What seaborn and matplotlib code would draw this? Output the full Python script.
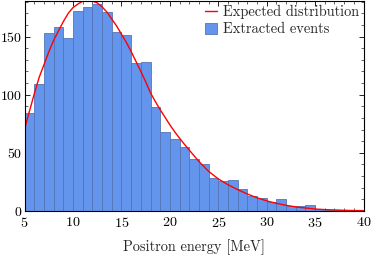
import numpy as np
import pandas as pd
import matplotlib
matplotlib.use("Agg")
import matplotlib.pyplot as plt
import seaborn as sns
from matplotlib.ticker import MultipleLocator

# ---- data ----
bin_left = list(range(5, 40))
counts = [84, 109, 153, 158, 149, 172, 175, 178, 171, 154,
          151, 127, 128, 89, 68, 62, 55, 45, 40, 28,
          26, 26.5, 18.5, 13, 11, 8, 10, 4.3, 4, 5.3,
          1.5, 1, 1, 0, 0]

curve_e = [5, 5.5, 6, 6.5, 7, 7.5, 8, 8.5, 9, 9.5, 10, 10.5, 11, 11.5, 12,
           12.5, 13, 13.5, 14, 14.5, 15, 15.5, 16, 16.5, 17, 17.5, 18, 18.5,
           19, 19.5, 20, 20.5, 21, 21.5, 22, 23, 24, 25, 26, 27, 28, 29, 30,
           31, 32, 33, 34, 35, 36, 37, 38, 39, 40]
curve_v = [71, 86, 101, 115, 126, 137, 147, 155, 163, 170, 175, 178, 180.5,
           181, 180.5, 179, 175.5, 171, 165, 159, 152, 145, 137, 128.5, 120,
           111, 101.5, 94, 87, 80.5, 74, 68, 62.5, 57.3, 52.3, 42.5, 34,
           27.5, 22.5, 18.3, 14.5, 11.3, 8.6, 6.5, 4.8, 3.4, 2.5, 1.6, 1.1,
           0.8, 0.5, 0.3, 0.2]

xlabel = "Positron energy [MeV]"
legend_line = "Expected distribution"
legend_bars = "Extracted events"

# ---- style ----
sns.set_theme(style="ticks")
plt.rcParams.update({
    "font.family": ["cmr10", "DejaVu Serif"],
    "axes.formatter.use_mathtext": True,
    "mathtext.fontset": "cm",
    "font.size": 10.2,
    "xtick.direction": "in",
    "ytick.direction": "in",
    "xtick.top": True,
    "ytick.right": True,
    "axes.linewidth": 0.8,
    "axes.edgecolor": "black",
})

df_bins = pd.DataFrame({"energy": [b + 0.5 for b in bin_left],
                        "count": counts})
df_curve = pd.DataFrame({"energy": curve_e, "value": curve_v})

fig = plt.figure(figsize=(3.74, 2.61), dpi=100)
ax = fig.add_axes([0.066, 0.192, 0.906, 0.806])

sns.histplot(data=df_bins, x="energy", weights="count",
             binwidth=1, binrange=(5, 40), ax=ax,
             color="#6495ED", alpha=1.0, edgecolor="#5475b5",
             linewidth=0.6, label=legend_bars)
sns.lineplot(data=df_curve, x="energy", y="value", ax=ax,
             color="red", linewidth=1.0, label=legend_line)

ax.set_xlim(5, 40)
ax.set_ylim(0, 181)
ax.xaxis.set_major_locator(MultipleLocator(5))
ax.xaxis.set_minor_locator(MultipleLocator(1))
ax.yaxis.set_major_locator(MultipleLocator(50))
ax.yaxis.set_minor_locator(MultipleLocator(10))
ax.tick_params(which="major", length=3.5, width=0.6, labelsize=10, pad=1.5,
               colors="black")
ax.tick_params(axis="x", which="major", pad=3.5, labelsize=10.2)
ax.tick_params(which="minor", length=2, width=0.5)
ax.set_xlabel(xlabel, fontsize=10.4, labelpad=7)
ax.set_ylabel("")

handles, labels = ax.get_legend_handles_labels()
order = [labels.index(legend_line), labels.index(legend_bars)]
ax.legend([handles[i] for i in order], [labels[i] for i in order],
          loc="upper right", frameon=False, fontsize=10.4,
          handlelength=0.8, handleheight=0.8, handletextpad=0.4,
          labelspacing=0.22, borderaxespad=0.0, borderpad=0.32)

fig.savefig("out.png", dpi=100)
